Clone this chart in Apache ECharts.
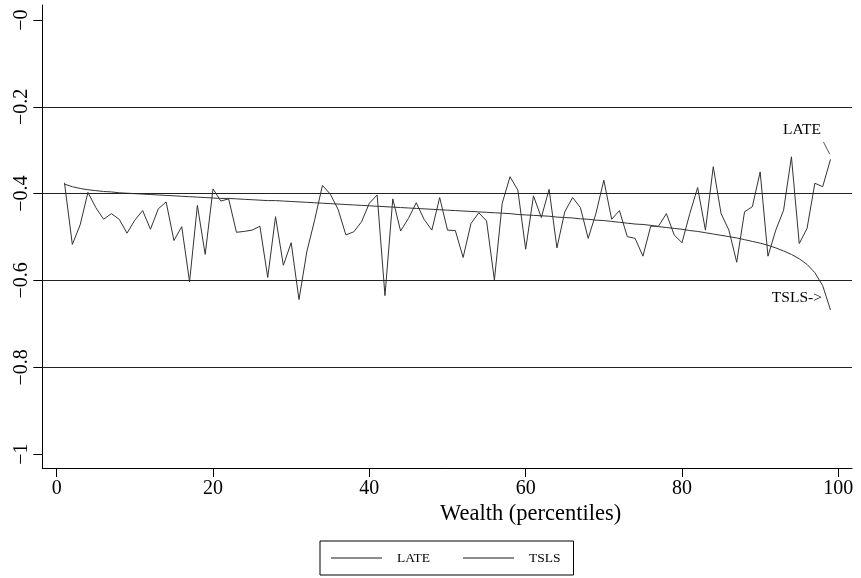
<!DOCTYPE html>
<html>
<head>
<meta charset="utf-8">
<script src="https://cdn.jsdelivr.net/npm/echarts@6/dist/echarts.min.js"></script>
<style>
html,body{margin:0;padding:0;background:#fff;}
#chart{width:861px;height:578px;}
</style>
</head>
<body>
<div id="chart"></div>
<script>
// Wealth percentiles 1..99
const percentiles = [1,2,3,4,5,6,7,8,9,10,11,12,13,14,15,16,17,18,19,20,21,22,23,24,25,26,27,28,29,30,31,32,33,34,35,36,37,38,39,40,41,42,43,44,45,46,47,48,49,50,51,52,53,54,55,56,57,58,59,60,61,62,63,64,65,66,67,68,69,70,71,72,73,74,75,76,77,78,79,80,81,82,83,84,85,86,87,88,89,90,91,92,93,94,95,96,97,98,99];

const lateValues = [
 -0.375,-0.517,-0.472,-0.397,-0.432,-0.459,-0.446,-0.459,-0.491,-0.461,
 -0.439,-0.482,-0.435,-0.419,-0.508,-0.476,-0.603,-0.427,-0.540,-0.389,
 -0.417,-0.412,-0.489,-0.487,-0.484,-0.475,-0.593,-0.453,-0.565,-0.513,
 -0.644,-0.534,-0.461,-0.381,-0.401,-0.436,-0.495,-0.488,-0.465,-0.422,
 -0.403,-0.635,-0.412,-0.486,-0.457,-0.421,-0.459,-0.484,-0.409,-0.484,
 -0.485,-0.547,-0.469,-0.444,-0.463,-0.599,-0.422,-0.361,-0.392,-0.528,
 -0.405,-0.455,-0.390,-0.525,-0.442,-0.409,-0.432,-0.503,-0.445,-0.369,
 -0.459,-0.439,-0.499,-0.503,-0.544,-0.475,-0.475,-0.446,-0.495,-0.513,
 -0.446,-0.386,-0.484,-0.338,-0.446,-0.484,-0.558,-0.442,-0.430,-0.350,
 -0.544,-0.484,-0.438,-0.315,-0.515,-0.480,-0.376,-0.384,-0.321
];

const tslsValues = [
 -0.378,-0.384,-0.388,-0.391,-0.393,-0.395,-0.396,-0.398,-0.399,-0.400,
 -0.401,-0.402,-0.403,-0.404,-0.405,-0.406,-0.407,-0.408,-0.409,-0.410,
 -0.411,-0.411,-0.412,-0.413,-0.414,-0.415,-0.416,-0.416,-0.417,-0.418,
 -0.419,-0.420,-0.421,-0.422,-0.423,-0.424,-0.425,-0.426,-0.427,-0.428,
 -0.429,-0.430,-0.431,-0.432,-0.433,-0.434,-0.435,-0.436,-0.437,-0.438,
 -0.439,-0.440,-0.441,-0.442,-0.443,-0.444,-0.445,-0.446,-0.448,-0.449,
 -0.450,-0.451,-0.452,-0.454,-0.455,-0.456,-0.458,-0.459,-0.461,-0.462,
 -0.464,-0.466,-0.468,-0.470,-0.471,-0.473,-0.476,-0.478,-0.480,-0.482,
 -0.485,-0.487,-0.490,-0.493,-0.496,-0.499,-0.502,-0.506,-0.510,-0.514,
 -0.519,-0.525,-0.532,-0.540,-0.550,-0.563,-0.582,-0.612,-0.668
];

const xTickValues = [0,20,40,60,80,100];
const xTickLabels = ['0','20','40','60','80','100'];
const yTickValues = [0,-0.2,-0.4,-0.6,-0.8,-1];
const yTickLabels = ['\u22120','\u22120.2','\u22120.4','\u22120.6','\u22120.8','\u22121'];
const gridLineValues = [-0.2,-0.4,-0.6,-0.8];
const seriesNames = ['LATE','TSLS'];
const xAxisTitle = 'Wealth (percentiles)';
const lateAnnotation = {text:'LATE', x:95.35, y:-0.2535};
const tslsAnnotation = {text:'TSLS->', x:94.7, y:-0.6406};
const lateConnector = [[98.1,-0.281],[98.9,-0.309]];

const FONT = '"Liberation Serif", "Times New Roman", serif';
const toPairs = (vals) => percentiles.map((p,i)=>[p, vals[i]]);

const chart = echarts.init(document.getElementById('chart'), null, {renderer:'canvas'});
chart.setOption({
  animation:false,
  backgroundColor:'#fff',
  grid:{left:42.3, right:9, top:5, bottom:110, containLabel:false},
  xAxis:{
    type:'value', min:-1.84, max:101.75,
    axisLine:{show:true, onZero:false, lineStyle:{color:'#000', width:1}},
    axisTick:{show:true, customValues:xTickValues, length:9, lineStyle:{color:'#000', width:1}},
    axisLabel:{show:true, customValues:xTickValues, margin:11,
      formatter:(v)=>{const i=xTickValues.indexOf(v);return i>=0?xTickLabels[i]:'';},
      fontFamily:FONT, fontSize:20, color:'#000'},
    splitLine:{show:false}
  },
  yAxis:{
    type:'value', min:-1.032, max:0.0346,
    axisLine:{show:true, onZero:false, lineStyle:{color:'#000', width:1}},
    axisTick:{show:true, customValues:yTickValues, length:9, lineStyle:{color:'#000', width:1}},
    axisLabel:{show:true, customValues:yTickValues, rotate:90, margin:11,
      formatter:(v)=>{let i=-1;yTickValues.forEach((t,j)=>{if(Math.abs(t-v)<1e-6)i=j;});return i>=0?yTickLabels[i]:'';},
      fontFamily:FONT, fontSize:20, color:'#000'},
    splitLine:{show:false}
  },
  legend:{
    left:320, top:541,
    data:seriesNames.map(n=>({name:n, icon:'rect', itemStyle:{color:'#8c8c8c'}})),
    itemWidth:51, itemHeight:2, itemGap:33,
    padding:[10,13,10,11],
    borderColor:'#000', borderWidth:1,
    textStyle:{fontFamily:FONT, fontSize:13.5, color:'#000', padding:[0,0,0,10]}
  },
  graphic:[{
    type:'text', left:440, top:503,
    style:{text:xAxisTitle, font:'22.5px '+FONT, fill:'#000'}
  }],
  series:[
    {
      name:seriesNames[0], type:'line', data:toPairs(lateValues),
      showSymbol:false, symbol:'none',
      lineStyle:{color:'#333', width:1}, itemStyle:{color:'#333'},
      markLine:{
        silent:true, symbol:'none', animation:false,
        label:{show:false},
        lineStyle:{color:'#222', width:1.1, type:'solid'},
        data: gridLineValues.map(v=>({yAxis:v})).concat([
          [{coord:lateConnector[0], lineStyle:{color:'#555', width:1}},{coord:lateConnector[1]}]
        ])
      },
      markPoint:{
        silent:true, symbol:'circle', symbolSize:0,
        label:{show:true, position:'inside', fontFamily:FONT, fontSize:15.5, color:'#000',
          formatter:(p)=>p.name},
        data:[
          {name:lateAnnotation.text, coord:[lateAnnotation.x, lateAnnotation.y]},
          {name:tslsAnnotation.text, coord:[tslsAnnotation.x, tslsAnnotation.y]}
        ]
      }
    },
    {
      name:seriesNames[1], type:'line', data:toPairs(tslsValues),
      showSymbol:false, symbol:'none',
      lineStyle:{color:'#333', width:1}, itemStyle:{color:'#333'}
    }
  ]
});
</script>
</body>
</html>
